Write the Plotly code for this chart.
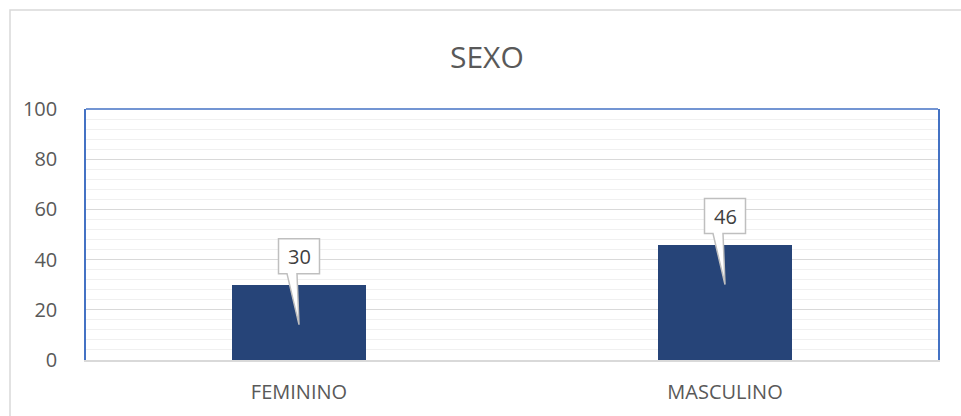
import plotly.graph_objects as go

categories = ["FEMININO", "MASCULINO"]
values = [30, 46]
y_ticks = [0, 20, 40, 60, 80, 100]
title_text = "SEXO"

W, H = 961, 416
ML, MR, MT, MB = 86, 23, 109, 56
FONT = "Open Sans, Lato, sans-serif"

x_idx = list(range(len(categories)))

fig = go.Figure()
fig.add_trace(go.Bar(
    x=x_idx, y=values, width=0.315,
    marker=dict(color="#264478", line=dict(width=0)),
    hoverinfo="skip", showlegend=False,
))

shapes = []
annotations = []

# callout labels, anchored to each bar value, offsets in pixels
callout = "M -20.5,11 L -20.5,46 L 20.5,46 L 20.5,11 L -2,11 L 0,-40 L -12,11 Z"
for xi, v in zip(x_idx, values):
    shapes.append(dict(
        type="path", xref="x", yref="y", xsizemode="pixel", ysizemode="pixel",
        xanchor=xi, yanchor=v, path=callout,
        fillcolor="white", line=dict(color="#BFBFBF", width=1.5), layer="above",
    ))
    annotations.append(dict(
        x=xi, y=v, xref="x", yref="y", text=str(v), showarrow=False,
        yshift=28.5, yanchor="middle", xanchor="center",
        font=dict(family=FONT, size=20, color="#404040"),
    ))

pw = W - ML - MR
ph = H - MT - MB
# outer chart border (light gray)
shapes.append(dict(
    type="rect", xref="paper", yref="paper",
    x0=(10 - ML) / pw, x1=(W + 5 - ML) / pw,
    y0=-(H + 5 - MT) / ph + 1, y1=1 + (MT - 10) / ph,
    line=dict(color="#D9D9D9", width=1.5), fillcolor="rgba(0,0,0,0)", layer="below",
))
# top border of plot area (blue)
shapes.append(dict(
    type="line", xref="paper", yref="paper", x0=0, x1=1, y0=1, y1=1,
    line=dict(color="#4472C4", width=1.5), layer="above",
))

annotations.append(dict(
    x=(487 - ML) / pw, y=1 + (MT - 57) / ph, xref="paper", yref="paper",
    text=title_text, showarrow=False, xanchor="center", yanchor="middle",
    font=dict(family=FONT, size=30, color="#595959"),
))

fig.update_layout(
    width=W, height=H,
    margin=dict(l=ML, r=MR, t=MT, b=MB, pad=0),
    paper_bgcolor="white", plot_bgcolor="white",
    shapes=shapes, annotations=annotations,
    xaxis=dict(
        range=[-0.5, 1.5], tickvals=x_idx, ticktext=categories,
        showgrid=False, zeroline=False,
        showline=True, linecolor="#D9D9D9", linewidth=1.5,
        ticks="", ticklabelstandoff=13,
        tickfont=dict(family=FONT, size=20, color="#595959"),
    ),
    yaxis=dict(
        range=[0, 100], tickvals=y_ticks,
        showgrid=True, gridcolor="#D9D9D9", gridwidth=1,
        minor=dict(dtick=4, tick0=0, showgrid=True, gridcolor="#F0F0F0", gridwidth=1),
        zeroline=False,
        showline=True, linecolor="#4472C4", linewidth=1.5, mirror=True,
        ticks="", ticklabelstandoff=23,
        tickfont=dict(family=FONT, size=20, color="#595959"),
    ),
    bargap=0,
)

fig.write_html("out.html")
